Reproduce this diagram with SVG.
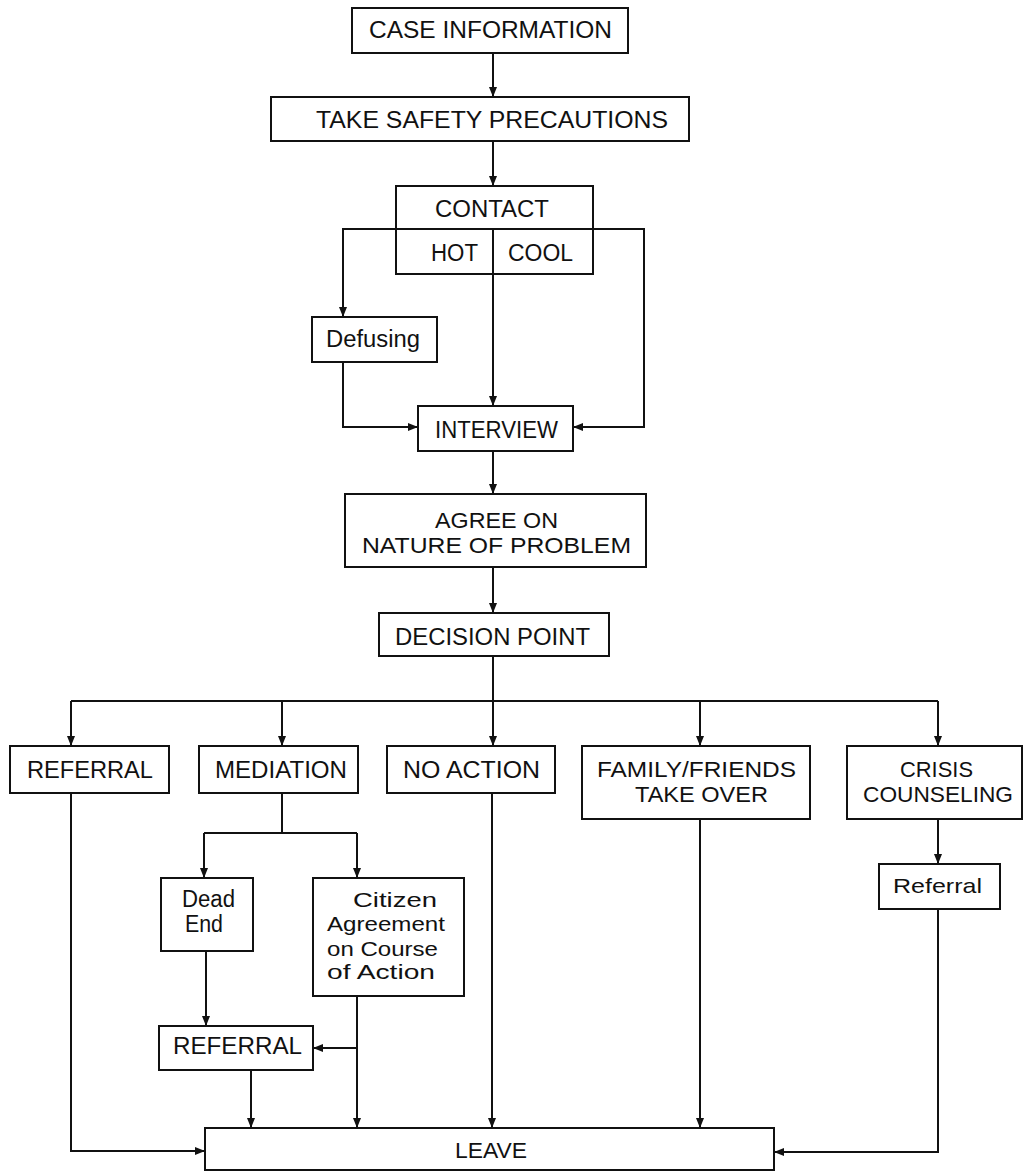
<svg xmlns="http://www.w3.org/2000/svg" width="1024" height="1172" viewBox="0 0 1024 1172">
<style>
.box{fill:none;stroke:#111;stroke-width:2}
.ln{fill:none;stroke:#111;stroke-width:2}
.t{font-family:"Liberation Sans",Arial,sans-serif;fill:#111;font-size:23px}
.s{font-size:22px}
.l{font-size:23px}
.c{font-size:21px}
</style>
<defs>
<marker id="ah" markerUnits="userSpaceOnUse" markerWidth="11" markerHeight="8" refX="10" refY="4" orient="auto">
<path d="M0,0 L10,4 L0,8 z" fill="#111"/>
</marker>
</defs>
<rect width="1024" height="1172" fill="#fff"/>
<g id="connectors" class="ln">
<path d="M493,53 V97" marker-end="url(#ah)"/>
<path d="M493,141 V186" marker-end="url(#ah)"/>
<path d="M396,229 H343 V317" marker-end="url(#ah)"/>
<path d="M593,229 H644 V427 H573" marker-end="url(#ah)"/>
<path d="M493,274 V406" marker-end="url(#ah)"/>
<path d="M343,362 V427 H418" marker-end="url(#ah)"/>
<path d="M493,451 V494" marker-end="url(#ah)"/>
<path d="M493,567 V613" marker-end="url(#ah)"/>
<path d="M493,656 V746" marker-end="url(#ah)"/>
<path d="M71,701 H938"/>
<path d="M71,701 V746" marker-end="url(#ah)"/>
<path d="M282,701 V746" marker-end="url(#ah)"/>
<path d="M700,701 V746" marker-end="url(#ah)"/>
<path d="M938,701 V746" marker-end="url(#ah)"/>
<path d="M71,793 V1151 H205" marker-end="url(#ah)"/>
<path d="M282,793 V833"/>
<path d="M204,833 H357"/>
<path d="M204,833 V878" marker-end="url(#ah)"/>
<path d="M357,833 V878" marker-end="url(#ah)"/>
<path d="M206,951 V1026" marker-end="url(#ah)"/>
<path d="M357,996 V1128" marker-end="url(#ah)"/>
<path d="M357,1048 H313" marker-end="url(#ah)"/>
<path d="M251,1070 V1128" marker-end="url(#ah)"/>
<path d="M492,793 V1128" marker-end="url(#ah)"/>
<path d="M700,819 V1128" marker-end="url(#ah)"/>
<path d="M938,819 V864" marker-end="url(#ah)"/>
<path d="M938,909 V1152 H774" marker-end="url(#ah)"/>
</g>
<g id="case-information">
<rect class="box" x="352" y="8" width="276" height="45"/>
<text class="t" x="369" y="38" textLength="243" lengthAdjust="spacingAndGlyphs">CASE INFORMATION</text>
</g>
<g id="take-safety">
<rect class="box" x="271" y="97" width="418" height="44"/>
<text class="t" x="316" y="128" textLength="352" lengthAdjust="spacingAndGlyphs">TAKE SAFETY PRECAUTIONS</text>
</g>
<g id="contact">
<rect class="box" x="396" y="186" width="197" height="88"/>
<path class="ln" d="M396,229 H593 M493,229 V274"/>
<text class="t" x="435" y="217" textLength="114" lengthAdjust="spacingAndGlyphs">CONTACT</text>
<text class="t" x="431" y="261" textLength="47" lengthAdjust="spacingAndGlyphs">HOT</text>
<text class="t" x="508" y="261" textLength="65" lengthAdjust="spacingAndGlyphs">COOL</text>
</g>
<g id="defusing">
<rect class="box" x="312" y="317" width="125" height="45"/>
<text class="t l" x="326" y="347" textLength="94" lengthAdjust="spacingAndGlyphs">Defusing</text>
</g>
<g id="interview">
<rect class="box" x="418" y="406" width="155" height="45"/>
<text class="t" x="435" y="438" textLength="123" lengthAdjust="spacingAndGlyphs">INTERVIEW</text>
</g>
<g id="agree">
<rect class="box" x="345" y="494" width="301" height="73"/>
<text class="t s" x="435" y="528" textLength="123" lengthAdjust="spacingAndGlyphs">AGREE ON</text>
<text class="t s" x="362" y="553" textLength="269" lengthAdjust="spacingAndGlyphs">NATURE OF PROBLEM</text>
</g>
<g id="decision-point">
<rect class="box" x="379" y="613" width="230" height="43"/>
<text class="t" x="395" y="645" textLength="195" lengthAdjust="spacingAndGlyphs">DECISION POINT</text>
</g>
<g id="referral-1">
<rect class="box" x="10" y="746" width="159" height="47"/>
<text class="t" x="27" y="778" textLength="126" lengthAdjust="spacingAndGlyphs">REFERRAL</text>
</g>
<g id="mediation">
<rect class="box" x="199" y="746" width="159" height="47"/>
<text class="t" x="215" y="778" textLength="132" lengthAdjust="spacingAndGlyphs">MEDIATION</text>
</g>
<g id="no-action">
<rect class="box" x="387" y="746" width="168" height="47"/>
<text class="t" x="403" y="778" textLength="137" lengthAdjust="spacingAndGlyphs">NO ACTION</text>
</g>
<g id="family-friends">
<rect class="box" x="582" y="746" width="228" height="73"/>
<text class="t s" x="597" y="777" textLength="199" lengthAdjust="spacingAndGlyphs">FAMILY/FRIENDS</text>
<text class="t s" x="635" y="802" textLength="133" lengthAdjust="spacingAndGlyphs">TAKE OVER</text>
</g>
<g id="crisis-counseling">
<rect class="box" x="847" y="746" width="175" height="73"/>
<text class="t s" x="900" y="777" textLength="73" lengthAdjust="spacingAndGlyphs">CRISIS</text>
<text class="t s" x="863" y="802" textLength="150" lengthAdjust="spacingAndGlyphs">COUNSELING</text>
</g>
<g id="referral-crisis">
<rect class="box" x="879" y="864" width="121" height="45"/>
<text class="t c" x="893" y="893" textLength="89" lengthAdjust="spacingAndGlyphs">Referral</text>
</g>
<g id="dead-end">
<rect class="box" x="161" y="878" width="92" height="73"/>
<text class="t l" x="182" y="907" textLength="53" lengthAdjust="spacingAndGlyphs">Dead</text>
<text class="t l" x="185" y="932" textLength="38" lengthAdjust="spacingAndGlyphs">End</text>
</g>
<g id="citizen-agreement">
<rect class="box" x="313" y="878" width="151" height="118"/>
<text class="t c" x="353" y="907" textLength="84" lengthAdjust="spacingAndGlyphs">Citizen</text>
<text class="t c" x="327" y="931" textLength="118" lengthAdjust="spacingAndGlyphs">Agreement</text>
<text class="t c" x="327" y="956" textLength="111" lengthAdjust="spacingAndGlyphs">on Course</text>
<text class="t c" x="327" y="979" textLength="108" lengthAdjust="spacingAndGlyphs">of Action</text>
</g>
<g id="referral-2">
<rect class="box" x="159" y="1026" width="154" height="44"/>
<text class="t" x="173" y="1054" textLength="129" lengthAdjust="spacingAndGlyphs">REFERRAL</text>
</g>
<g id="leave">
<rect class="box" x="205" y="1128" width="569" height="42"/>
<text class="t s" x="455" y="1158" textLength="72" lengthAdjust="spacingAndGlyphs">LEAVE</text>
</g>
</svg>
